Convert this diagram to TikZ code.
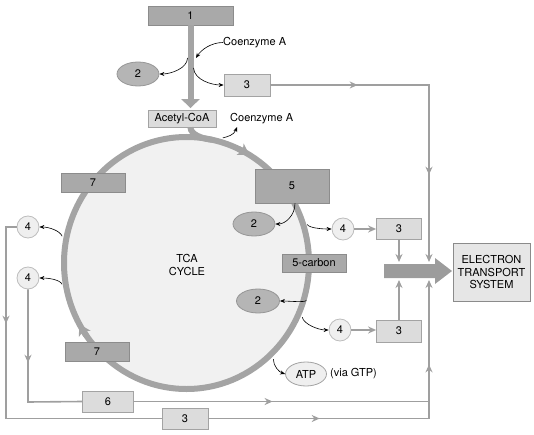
\documentclass[tikz,border=0pt]{standalone}
\usepackage{fontspec}
\setmainfont{TeX Gyre Heros}
\usetikzlibrary{arrows.meta,decorations.markings,shapes.geometric,calc}
\definecolor{dkfill}{HTML}{A9A9A9}
\definecolor{dkline}{HTML}{8C8C8C}
\definecolor{ltfill}{HTML}{DCDCDC}
\definecolor{ltline}{HTML}{A3A3A3}
\definecolor{ovfill}{HTML}{B5B5B5}
\definecolor{ovline}{HTML}{969696}
\definecolor{cfill}{HTML}{EFEFEF}
\definecolor{cline}{HTML}{BDBDBD}
\definecolor{ringc}{HTML}{A4A4A4}
\definecolor{cycfill}{HTML}{F1F1F1}
\definecolor{lncol}{HTML}{9F9F9F}
\definecolor{bigc}{HTML}{9C9C9C}
\definecolor{etsfill}{HTML}{E6E6E6}
\tikzset{
  dbox/.style={draw=dkline, fill=dkfill, line width=0.8pt, inner sep=0pt},
  lbox/.style={draw=ltline, fill=ltfill, line width=0.8pt, inner sep=0pt},
  oval/.style={ellipse, draw=ovline, fill=ovfill, line width=0.8pt, inner sep=0pt, minimum width=42pt, minimum height=24pt},
  cfour/.style={circle, draw=cline, fill=cfill, line width=0.8pt, inner sep=0pt, minimum size=22pt},
  conn/.style={color=lncol, line width=1.6pt},
  gtip/.tip={Stealth[length=8pt,width=7pt]},
  mid/.style={postaction={decorate, decoration={markings, mark=at position #1 with {\arrow{gtip}}}}},
  blk/.style={draw=black, line width=0.6pt, -{Stealth[length=5pt,width=4pt]}},
  ringtip/.tip={Stealth[length=11pt,width=13pt,inset=3pt]},
}
\begin{document}
\begin{tikzpicture}[x=1pt,y=-1pt, font=\fontsize{11}{12.7}\selectfont]
\useasboundingbox (0,0) rectangle (534,435);

% TCA cycle ring
\node[ellipse, draw=ringc, fill=cycfill, line width=6pt, inner sep=0pt,
      minimum width=245pt, minimum height=252pt] (cyc) at (186.5,263) {};
\node[align=center] (tca) at (187,265) {TCA\\CYCLE};
\draw[ringc, line width=6pt, -{ringtip}]
  ($(cyc.center)+(-65:122.5 and 126)$) arc[start angle=-65, end angle=-59, x radius=122.5, y radius=126];
\draw[ringc, line width=6pt, -{ringtip}]
  ($(cyc.center)+(145:122.5 and 126)$) arc[start angle=145, end angle=151, x radius=122.5, y radius=126];

% boxes and shapes
\node[dbox, minimum width=85pt, minimum height=19pt] (b1) at (190.5,15.5) {1};
\node[lbox, minimum width=68pt, minimum height=17pt] (acoa) at (182,118.5) {Acetyl-CoA};
\node[oval] (e2a) at (138,74) {2};
\node[lbox, minimum width=46pt, minimum height=22pt] (b3a) at (247,85) {3};
\node[anchor=west, inner sep=0pt] (coA1) at (223,42.5) {Coenzyme A};
\node[anchor=west, inner sep=0pt] (coA2) at (230,119) {Coenzyme A};
\coordinate (ca2) at (237,127);

\node[dbox, minimum width=64pt, minimum height=19pt] (b7a) at (93,182.5) {7};
\node[dbox, minimum width=74pt, minimum height=34pt] (b5) at (292,186) {5};
\node[oval] (e2b) at (254,224) {2};
\node[cfour] (c4a) at (343,229) {4};
\node[lbox, minimum width=45pt, minimum height=21pt] (b3b) at (399,228.5) {3};
\node[dbox, minimum width=64pt, minimum height=18pt] (carb) at (314,263) {5-carbon};
\node[oval, minimum width=43pt] (e2c) at (258,301) {2};
\node[cfour] (c4b) at (340,330) {4};
\node[lbox, minimum width=45pt, minimum height=22pt] (b3c) at (399,331) {3};
\node[cfour] (c4L1) at (28,227) {4};
\node[cfour] (c4L2) at (28,278) {4};
\node[dbox, minimum width=64pt, minimum height=19pt] (b7b) at (97,351.5) {7};
\node[ellipse, draw=ltline, fill=cfill, line width=0.8pt, inner sep=0pt,
      minimum width=41pt, minimum height=24pt] (atp) at (306,374) {ATP};
\node[anchor=west, inner sep=0pt] (gtp) at (330,374) {(via GTP)};
\node[lbox, minimum width=51pt, minimum height=21pt] (b6) at (108,401.5) {6};
\node[lbox, minimum width=46pt, minimum height=21pt] (b3d) at (185,418.5) {3};
\node[draw=ltline!85!black, fill=etsfill, line width=1pt, inner sep=0pt,
      minimum width=77pt, minimum height=58pt, align=center] (ets) at (491.5,272)
      {ELECTRON\\TRANSPORT\\SYSTEM};

% big arrow into ETS
\fill[bigc] (384,264) -- (435,264) -- (435,258) -- (452,271) -- (435,284)
  -- (435,278) -- (384,278) -- cycle;
\coordinate (ta) at (429,262);
\coordinate (tb) at (399,262);
\coordinate (ba) at (429,280);
\coordinate (bb) at (399,280);
\coordinate (k1) at (429,85);
\coordinate (k2) at (28,402);
\coordinate (k3) at (6,227);
\coordinate (k4) at (6,418.5);
\coordinate (k5) at (429,401.5);
\coordinate (k6) at (429,418.5);

% thick arrow and acetyl-CoA entry
\draw[ringc, line width=6pt, -{Triangle[width=18pt,length=9pt]}, shorten >=1.5pt]
  (b1.south) -- (b1.south |- acoa.north);
\draw[ringc, line width=6pt] (acoa.south -| b1.south) .. controls +(0,7) and +(-10,-1) .. ($(cyc.center)+(-78:122.5 and 126)$);

% gray connectors
\draw[conn, mid=0.26, mid=0.74, -{gtip}] (b3a.east) -- (k1) -- (ta);
\draw[conn, -{gtip}] (c4a.east) -- (c4a.east -| b3b.west);
\draw[conn, -{gtip}] (b3b.south) -- (tb);
\draw[conn, -{gtip}] (c4b.east) -- (c4b.east -| b3c.west);
\draw[conn, -{gtip}] (b3c.north) -- (bb);
\draw[conn, mid=0.44] (c4L2.south) -- (k2) -- (b6.west);
\draw[conn, mid=0.47] (b6.east) -- (k5);
\draw[conn, mid=0.3] (c4L1.west) -- (k3) -- (k4) -- (b3d.west);
\draw[conn, mid=0.31, mid=0.765, -{gtip}] (b3d.east) -- (k6) -- (ba);

% black curved arrows
\draw[blk] (coA1.west) .. controls +(-12,0) and +(5,-8) .. (196,58);
\draw[blk] (187.5,58) .. controls +(0,10) and +(12,0) .. (e2a.east);
\draw[blk] (193.5,68) .. controls +(1,12) and +(-12,0) .. (b3a.west);
\draw[blk, shorten <=3pt] (cyc.75) .. controls +(8,-2) and +(-3,8) .. (ca2);
\draw[blk] ([xshift=3pt]b5.south) .. controls +(0,12) and +(10,0) .. (e2b.east);
\draw[blk, shorten <=3pt] (cyc.19) .. controls +(4,6) and +(-10,0) .. (c4a.west);
\draw[blk, shorten <=3pt] (cyc.-16) .. controls +(-2,5) and +(8,0) .. (e2c.east);
\draw[blk, shorten <=3pt] (cyc.-24) .. controls +(2,10) and +(-10,0) .. (c4b.west);
\draw[blk, shorten <=3pt] (cyc.-47) .. controls +(0,10) and +(-6,-2) .. (atp.west);
\draw[blk, shorten <=3pt] (cyc.169.5) .. controls +(-3,-8) and +(10,0) .. (c4L1.east);
\draw[blk, shorten <=3pt] (cyc.191) .. controls +(-3,-7) and +(10,0) .. (c4L2.east);
\end{tikzpicture}
\end{document}
